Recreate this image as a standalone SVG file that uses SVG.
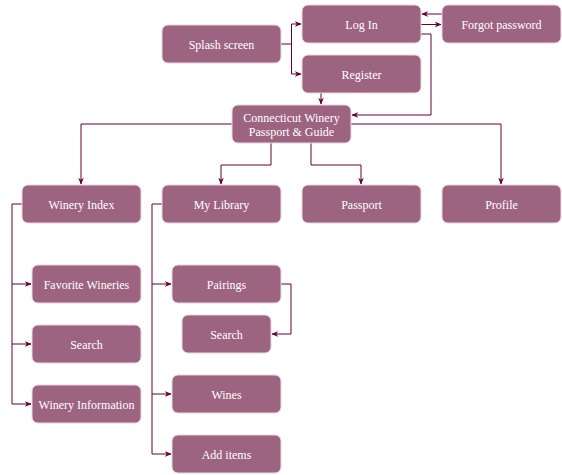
<svg xmlns="http://www.w3.org/2000/svg" width="562" height="475" viewBox="0 0 562 475">
<defs>
<marker id="ah" viewBox="0 0 10 10" refX="9" refY="5" markerWidth="7" markerHeight="7" markerUnits="userSpaceOnUse" orient="auto">
<path d="M0,1 L10,5 L0,9 L3,5 Z" fill="#660033"/>
</marker>
<style>
.n rect{fill:#9d6481;stroke:#e8d6de;stroke-width:1}
.n text{fill:#ffffff;font-size:12px;text-anchor:middle}
#edges path{fill:none;stroke:#660033;stroke-width:1;marker-end:url(#ah)}
</style>
</defs>
<rect width="562" height="475" fill="#ffffff"/>
<g id="edges">
<path d="M281,44 H291.5 V24 H301"/>
<path d="M291.5,44 V74 H301"/>
<path d="M442,14 H422"/>
<path d="M421,24.5 H441"/>
<path d="M421,34 H431 V115 H352"/>
<path d="M321,93 V104"/>
<path d="M232,124 H81 V184"/>
<path d="M351,124 H501 V184"/>
<path d="M271,143 V165 H221 V184"/>
<path d="M311,143 V165 H361 V184"/>
<path d="M22,204 H12 V284 H31"/>
<path d="M12,284 V344 H31"/>
<path d="M12,344 V404 H31"/>
<path d="M162,204 H152 V284 H171"/>
<path d="M152,284 V394 H171"/>
<path d="M152,394 V454 H171"/>
<path d="M281,284 H291 V334 H272"/>
</g>
<g font-family="'Liberation Serif', 'Times New Roman', 'DejaVu Serif', serif">
<g id="splash" class="n"><rect x="162" y="25" width="119" height="38" rx="6"/><text x="221.5" y="49">Splash screen</text></g>
<g id="login" class="n"><rect x="302" y="5" width="119" height="38" rx="6"/><text x="361.5" y="29">Log In</text></g>
<g id="forgot" class="n"><rect x="442" y="5" width="119" height="38" rx="6"/><text x="501.5" y="29">Forgot password</text></g>
<g id="register" class="n"><rect x="302" y="55" width="119" height="38" rx="6"/><text x="361.5" y="79">Register</text></g>
<g id="main" class="n"><rect x="232" y="105" width="119" height="38" rx="6"/><text x="291.5" y="122">Connecticut Winery</text><text x="291.5" y="136">Passport &amp; Guide</text></g>
<g id="wineryindex" class="n"><rect x="22" y="185" width="119" height="38" rx="6"/><text x="81.5" y="209">Winery Index</text></g>
<g id="mylibrary" class="n"><rect x="162" y="185" width="119" height="38" rx="6"/><text x="221.5" y="209">My Library</text></g>
<g id="passport" class="n"><rect x="302" y="185" width="119" height="38" rx="6"/><text x="361.5" y="209">Passport</text></g>
<g id="profile" class="n"><rect x="442" y="185" width="119" height="38" rx="6"/><text x="501.5" y="209">Profile</text></g>
<g id="favorites" class="n"><rect x="32" y="265" width="109" height="38" rx="6"/><text x="86.5" y="289">Favorite Wineries</text></g>
<g id="search1" class="n"><rect x="32" y="325" width="109" height="38" rx="6"/><text x="86.5" y="349">Search</text></g>
<g id="wineryinfo" class="n"><rect x="32" y="385" width="109" height="38" rx="6"/><text x="86.5" y="409">Winery Information</text></g>
<g id="pairings" class="n"><rect x="172" y="265" width="109" height="38" rx="6"/><text x="226.5" y="289">Pairings</text></g>
<g id="search2" class="n"><rect x="182" y="315" width="89" height="38" rx="6"/><text x="226.5" y="339">Search</text></g>
<g id="wines" class="n"><rect x="172" y="375" width="109" height="38" rx="6"/><text x="226.5" y="399">Wines</text></g>
<g id="additems" class="n"><rect x="172" y="435" width="109" height="38" rx="6"/><text x="226.5" y="459">Add items</text></g>
</g>
</svg>
